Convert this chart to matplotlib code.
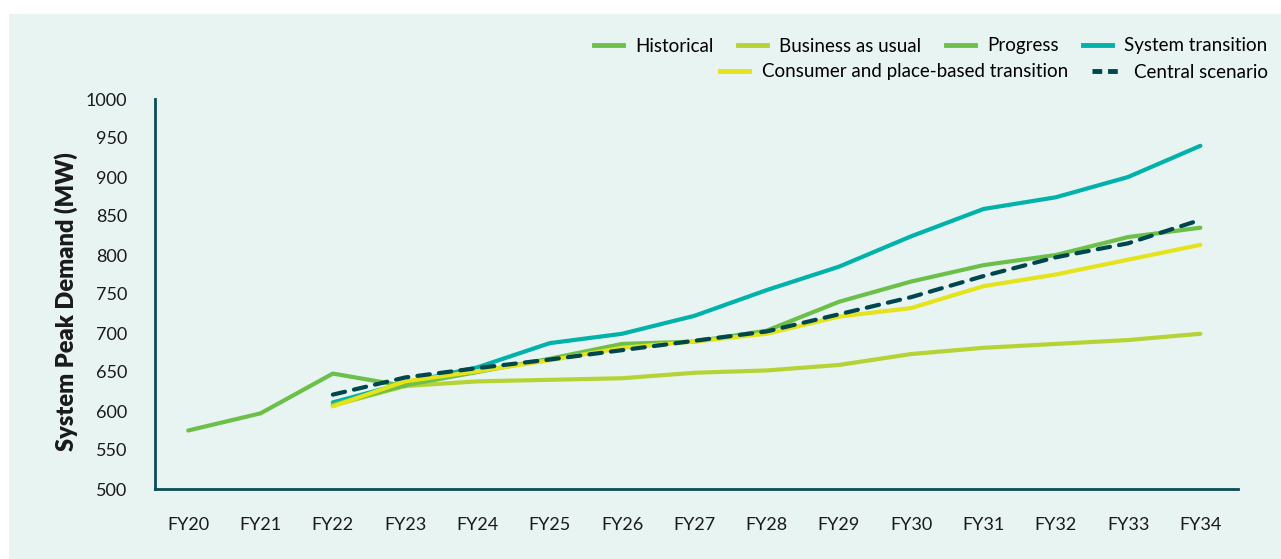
import matplotlib.pyplot as plt
from matplotlib.lines import Line2D
from matplotlib.patches import Rectangle

plt.rcParams['font.family'] = ['Lato', 'DejaVu Sans']

years = ['FY20', 'FY21', 'FY22', 'FY23', 'FY24', 'FY25', 'FY26', 'FY27',
         'FY28', 'FY29', 'FY30', 'FY31', 'FY32', 'FY33', 'FY34']

historical = [575, 597, 648, 632]
business_as_usual = [607, 632, 638, 640, 642, 649, 652, 659, 673, 681, 686, 691, 699]
progress = [608, 633, 650, 667, 686, 689, 703, 740, 766, 787, 800, 823, 835]
system_transition = [611, 636, 656, 687, 699, 722, 755, 785, 824, 859, 874, 900, 940]
consumer = [606, 638, 651, 665, 681, 689, 699, 721, 732, 760, 775, 794, 813]
central = [621, 643, 655, 666, 678, 690, 702, 724, 746, 773, 797, 815, 845]

c_hist = '#6cc04a'
c_bau = '#b5d334'
c_prog = '#6cc04a'
c_sys = '#00b2a9'
c_cons = '#e4e31c'
c_cent = '#00464e'
bg = '#e8f4f1'
axc = '#0b4c55'

fig = plt.figure(figsize=(12.81, 5.59), dpi=100)
fig.patch.set_facecolor('white')
fig.patches.append(Rectangle((9 / 1281, 0), 1, 1 - 14 / 559, transform=fig.transFigure,
                             facecolor=bg, edgecolor='none', zorder=-10))
ax = fig.add_axes([155 / 1281, 1 - 489 / 559, (1238 - 155) / 1281, (489 - 99) / 559])
ax.set_facecolor(bg)

xh = list(range(len(historical)))
xs = list(range(2, len(years)))
lw = 3
ax.plot(xs, business_as_usual, color=c_bau, lw=lw, solid_capstyle='round')
ax.plot(xh, historical, color=c_hist, lw=lw, solid_capstyle='round')
ax.plot(xs, system_transition, color=c_sys, lw=lw, solid_capstyle='round')
ax.plot(xs, progress, color=c_prog, lw=lw, solid_capstyle='round')
ax.plot(xs, consumer, color=c_cons, lw=lw, solid_capstyle='round')
ax.plot(xs, central, color=c_cent, lw=lw, ls=(0, (3, 2.2)), dash_capstyle='round')

ax.set_xlim(-0.46, 14.52)
ax.set_ylim(500, 1000)
ax.set_yticks(range(500, 1001, 50))
ax.set_xticks(range(len(years)))
ax.set_xticklabels(years)
ax.tick_params(length=0, labelsize=13, colors='#1a1a1a')
ax.tick_params(axis='x', pad=20)
ax.tick_params(axis='y', pad=20)
for s in ['top', 'right']:
    ax.spines[s].set_visible(False)
for s in ['left', 'bottom']:
    ax.spines[s].set_color(axc)
    ax.spines[s].set_linewidth(2)
ax.set_ylabel('System Peak Demand (MW)', fontsize=17, fontweight='heavy', color='#1a1a1a')
ax.yaxis.set_label_coords(-77 / 1083, 0.48)

row1 = [Line2D([], [], color=c_hist, lw=3.5), Line2D([], [], color=c_bau, lw=3.5),
        Line2D([], [], color=c_prog, lw=3.5), Line2D([], [], color=c_sys, lw=3.5)]
lab1 = ['Historical', 'Business as usual', 'Progress', 'System transition']
row2 = [Line2D([], [], color=c_cons, lw=3.5),
        Line2D([], [], color=c_cent, lw=3.5, ls=(0, (2, 1.2)))]
lab2 = ['Consumer and place-based transition', 'Central scenario']

kw = dict(frameon=False, fontsize=13.5, handlelength=1.55, handletextpad=0.65,
          columnspacing=1.3, borderaxespad=0, loc='upper right')
fig.legend(row1, lab1, ncol=4, bbox_to_anchor=(1275 / 1281, 1 - 30 / 559), **kw)
fig.legend(row2, lab2, ncol=2, bbox_to_anchor=(1275 / 1281, 1 - 56 / 559), **kw)

fig.savefig('out.png', dpi=100, facecolor=fig.get_facecolor())
